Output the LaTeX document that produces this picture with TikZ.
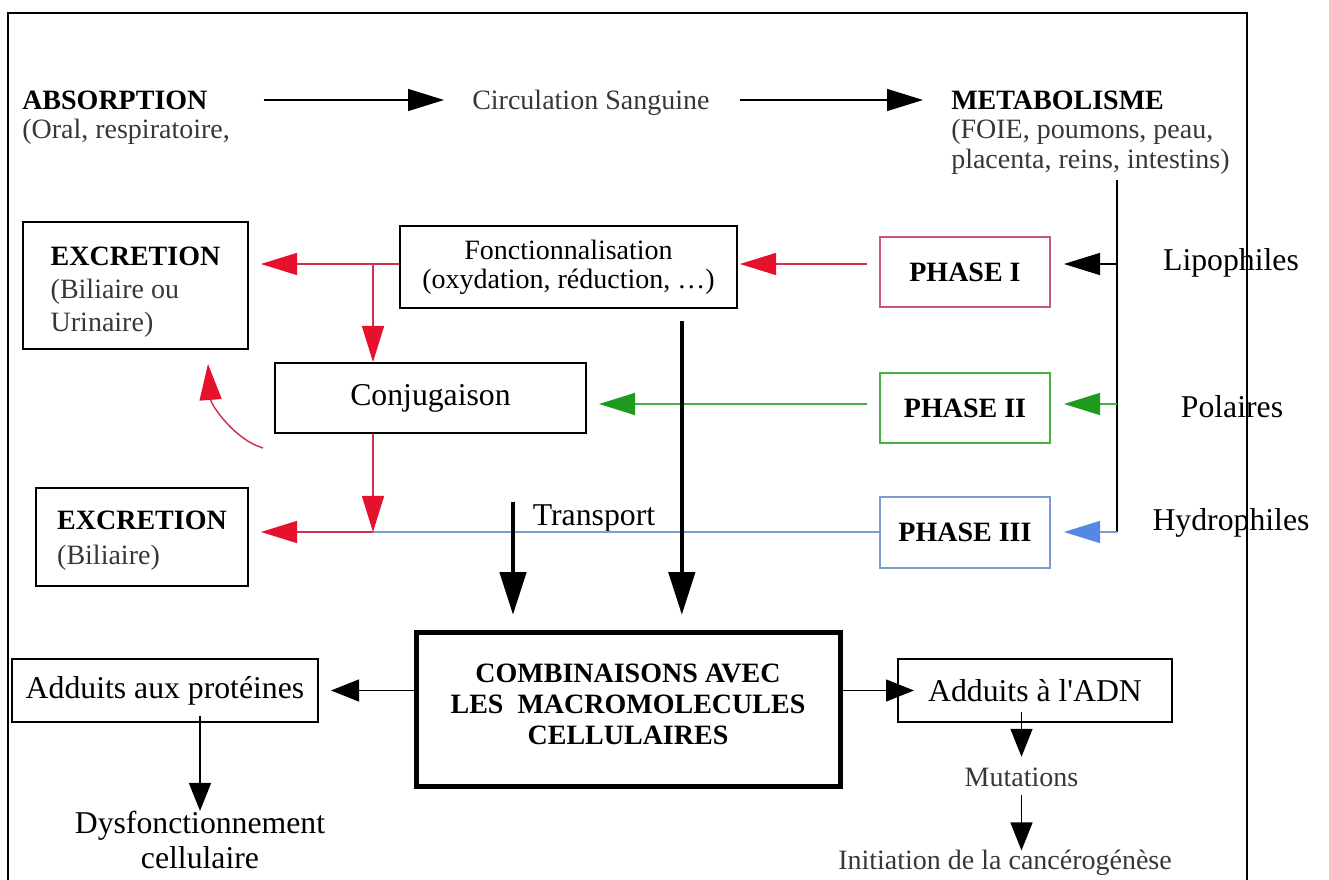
\documentclass[tikz,border=0pt]{standalone}
\usepackage{fontspec}
\setmainfont{Liberation Serif}
\usetikzlibrary{arrows.meta, positioning}

\definecolor{redhead}{RGB}{230,18,45}
\definecolor{redline}{RGB}{205,50,80}
\definecolor{phaseIcol}{RGB}{200,90,115}
\definecolor{greenhead}{RGB}{30,155,30}
\definecolor{greenline}{RGB}{70,175,70}
\definecolor{bluehead}{RGB}{85,135,230}
\definecolor{blueline}{RGB}{125,155,205}
\definecolor{txtgray}{RGB}{55,55,55}

\newcommand{\txtsmall}{\fontsize{21pt}{22.5pt}\selectfont}
\newcommand{\txtbig}{\fontsize{23.8pt}{26.25pt}\selectfont}

\begin{document}
\begin{tikzpicture}[x=0.75pt, y=-0.75pt,
    lblsmall/.style={inner sep=0pt, text height=13.9pt, text depth=0pt, font=\txtsmall},
    lblbig/.style={inner sep=0pt, text height=15.75pt, text depth=0pt, font=\txtbig},
    blackbox/.style={draw, line width=1.5pt, inner sep=0pt},
    phasebox/.style={draw, line width=1.5pt, inner sep=0pt, minimum width=127.5pt,
      minimum height=52.5pt, font=\txtsmall\bfseries},
    redarrow/.style={draw=redline, line width=1.1pt, -{Triangle[length=27pt,width=16.5pt,color=redhead]}},
    thinarrow/.style={line width=1.1pt, -{Triangle[length=27pt,width=16.5pt]}},
    smallarrow/.style={line width=1.1pt, -{Triangle[length=21pt,width=16.5pt]}},
    thickarrow/.style={line width=3.3pt, -{Triangle[length=32pt,width=19.5pt]}}]
    \useasboundingbox (0,0) rectangle (1329,880);

    % Frame
    \draw[line width=1.5pt] (8,880) -- (8,13) -- (1247,13) -- (1247,880);

    % Top row
    \node[lblsmall, anchor=west, font=\txtsmall\bfseries] (absorption) at (22,100) {ABSORPTION};
    \node[lblsmall, anchor=west, text=txtgray] (absorptionsub) at (22,129) {(Oral, respiratoire,};
    \node[lblsmall, anchor=west, text=txtgray] (circulation) at (472,100) {Circulation Sanguine};
    \node[lblsmall, anchor=west, font=\txtsmall\bfseries] (metabolisme) at (951,100) {METABOLISME};
    \node[anchor=west, align=left, inner sep=0pt, text=txtgray,
      font=\fontsize{21pt}{22.5pt}\selectfont] (metabolismesub) at (951,147)
      {(FOIE, poumons, peau,\\placenta, reins, intestins)};

    \draw[thinarrow] ([xshift=42pt]absorption.east) -- ([xshift=-21pt]circulation.west);
    \draw[thinarrow] ([xshift=23pt]circulation.east) -- ([xshift=-21pt]metabolisme.west);

    % Properties
    \node[lblbig] (lipo) at (1231,260) {Lipophiles};
    \node[lblbig] (polaires) at (1232,407) {Polaires};
    \node[lblbig] (hydro) at (1231,520) {Hydrophiles};

    % Phases
    \node[phasebox, draw=phaseIcol] (phaseI) at (965,272) {PHASE I};
    \node[phasebox, draw=greenline] (phaseII) at (965,408) {PHASE II};
    \node[phasebox, draw=blueline, minimum height=53.25pt] (phaseIII) at (965,532.5) {PHASE III};

    % Boxes
    \node[blackbox, minimum width=252.75pt, minimum height=61.5pt, align=center,
      font=\fontsize{21pt}{21.75pt}\selectfont] (fonct) at (568.5,267)
      {Fonctionnalisation\\(oxydation, réduction, …)};
    \node[blackbox, minimum width=168.75pt, minimum height=95.25pt, align=left,
      font=\fontsize{21pt}{24.75pt}\selectfont\bfseries] (excr1) at (135.5,285.5)
      {\rule{0pt}{24.4pt}EXCRETION\\{\mdseries\color{txtgray}(Biliaire ou}\\{\mdseries\color{txtgray}Urinaire)}};
    \node[blackbox, minimum width=233.25pt, minimum height=52.5pt, font=\txtbig] (conj) at (430.5,398) {Conjugaison};
    \node[blackbox, minimum width=159pt, minimum height=73.5pt, align=left,
      font=\fontsize{21pt}{26.25pt}\selectfont\bfseries] (excr2) at (142,537)
      {\rule{0pt}{19.9pt}EXCRETION\\{\mdseries\color{txtgray}(Biliaire)}};
    \node[blackbox, line width=3.75pt, minimum width=318pt, minimum height=115.5pt, align=center,
      font=\fontsize{21pt}{23.25pt}\selectfont\bfseries] (comb) at (628,709)
      {COMBINAISONS AVEC\\LES\ \ MACROMOLECULES\\CELLULAIRES\rule[-7.5pt]{0pt}{0pt}};
    \node[blackbox, minimum width=229.5pt, minimum height=47.25pt, font=\txtbig] (prot) at (165,690.5) {Adduits aux protéines};
    \node[blackbox, minimum width=205.5pt, minimum height=47.25pt, font=\txtbig] (adn) at (1035,690.5) {Adduits à l\textquotesingle ADN};

    % Outcomes
    \node[lblsmall, text=txtgray] (mut) at (1021.5,777) {Mutations};
    \node[lblsmall, text=txtgray] (init) at (1005,860) {Initiation de la cancérogénèse};
    \node[align=center, inner sep=0pt, font=\fontsize{23.8pt}{26.25pt}\selectfont] (dysf) at (200,840)
      {Dysfonctionnement\\cellulaire};
    \node[lblbig] (transport) at (594,515) {Transport};

    % Branching line and rows
    \coordinate (split) at (1117,180);
    \coordinate (rowI) at (1117,264);
    \coordinate (rowII) at (1117,404);
    \coordinate (rowIII) at (1117,532);
    \coordinate (fork) at (373,264);
    \coordinate (merge) at (373,532);
    \coordinate (bend) at (263,448);
    \coordinate (transtop) at (513,502);

    \draw[line width=1.1pt] (split) -- (rowIII);
    \draw[thinarrow, shorten >=9.75pt] (rowI) -- (rowI -| phaseI.east);
    \draw[draw=greenline, line width=1.1pt, -{Triangle[length=27pt,width=16.5pt,color=greenhead]},
      shorten >=9.75pt] (rowII) -- (rowII -| phaseII.east);
    \draw[draw=blueline, line width=1.1pt, -{Triangle[length=27pt,width=16.5pt,color=bluehead]},
      shorten >=9.75pt] (rowIII) -- (rowIII -| phaseIII.east);

    % Phase connectors
    \draw[redarrow, shorten <=9pt, shorten >=1.5pt] (rowI -| phaseI.west) -- (rowI -| fonct.east);
    \draw[redarrow, shorten >=9pt] (rowI -| fonct.west) -- (rowI -| excr1.east);
    \draw[redarrow] (fork) -- (fork |- conj.north);
    \draw[draw=greenline, line width=1.1pt, -{Triangle[length=27pt,width=16.5pt,color=greenhead]},
      shorten <=9pt, shorten >=9pt] (rowII -| phaseII.west) -- (rowII -| conj.east);
    \draw[draw=blueline, line width=1pt] (merge) -- (merge -| phaseIII.west);
    \draw[redarrow] (conj.south -| fork) -- (merge);
    \draw[redarrow, shorten >=9pt] (merge) -- (merge -| excr2.east);
    \draw[redarrow, shorten >=10.5pt] (bend) .. controls (235,440) and (211,405) .. ([xshift=53.6pt]excr1.south);

    % Towards the macromolecules
    \draw[thickarrow, shorten >=11pt] (transtop) -- (transtop |- comb.north);
    \draw[thickarrow, shorten <=9pt, shorten >=11pt] ([xshift=85pt]fonct.south) -- ([xshift=85pt]fonct.south |- comb.north);

    % Adducts
    \draw[smallarrow, shorten >=9pt] (comb.west |- prot) -- (prot.east);
    \draw[smallarrow, shorten >=-12.75pt] (comb.east |- adn) -- (adn.west);
    \draw[smallarrow, shorten <=-8pt, shorten >=8pt] (mut.north |- adn.south) -- (mut.north);
    \draw[smallarrow, shorten <=6.5pt] (mut.south) -- (mut.south |- init.north);
    \draw[smallarrow, shorten <=-5pt] (dysf.north |- prot.south) -- (dysf.north);
\end{tikzpicture}
\end{document}
